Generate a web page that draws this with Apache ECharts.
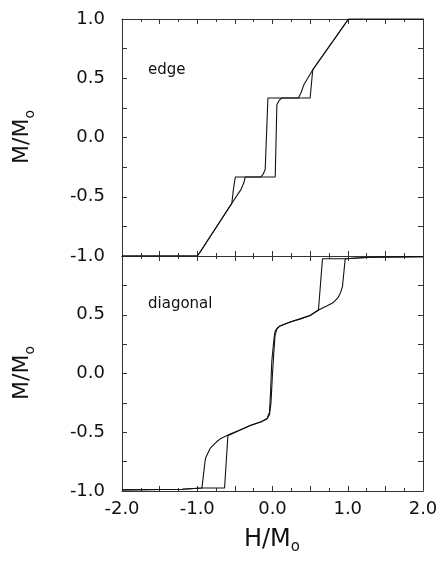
<!DOCTYPE html>
<html>
<head>
<meta charset="utf-8">
<script src="https://cdn.jsdelivr.net/npm/echarts@6/dist/echarts.min.js"></script>
<style>html,body{margin:0;padding:0;background:#fff;}#c{width:442px;height:561px;}</style>
</head>
<body>
<div id="c"></div>
<script>
// ---- data ----
var xTicks = [-2.0, -1.0, 0.0, 1.0, 2.0];
var yTicksTop = [-1.0, -0.5, 0.0, 0.5, 1.0];
var yTicksBottom = [-1.0, -0.5, 0.0, 0.5];

var edgeUpX = [-2.0, -1.0, -0.97, -0.54, -0.42, -0.38, -0.362, 0.036, 0.058, 0.09, 0.125, 0.50, 0.535, 1.01, 2.0];
var edgeUpY = [-1.0, -1.0, -0.975, -0.555, -0.44, -0.38, -0.333, -0.333, 0.276, 0.315, 0.333, 0.333, 0.572, 1.0, 1.0];
var edgeDownX = [2.0, 1.01, 0.535, 0.42, 0.38, 0.345, -0.061, -0.097, -0.125, -0.155, -0.494, -0.52, -0.54, -0.97, -1.0, -2.0];
var edgeDownY = [1.0, 1.0, 0.572, 0.45, 0.38, 0.333, 0.333, -0.27, -0.31, -0.333, -0.333, -0.44, -0.555, -0.975, -1.0, -1.0];

var diagUpX = [-2.0, -1.2, -0.938, -0.637, -0.593, -0.43, -0.296, -0.15, -0.074, -0.04, -0.02, 0.0, 0.02, 0.035, 0.06, 0.1, 0.235, 0.368, 0.5, 0.611, 0.72, 0.81, 0.87, 0.905, 0.93, 0.966, 1.3, 2.0];
var diagUpY = [-0.99, -0.985, -0.975, -0.975, -0.53, -0.48, -0.443, -0.41, -0.386, -0.35, -0.25, 0.0, 0.2, 0.33, 0.38, 0.405, 0.438, 0.465, 0.494, 0.54, 0.575, 0.605, 0.645, 0.69, 0.74, 0.976, 0.99, 0.995];
var diagDownX = [2.0, 1.3, 0.966, 0.664, 0.611, 0.5, 0.368, 0.235, 0.1, 0.06, 0.035, 0.02, -0.01, -0.025, -0.04, -0.074, -0.15, -0.296, -0.43, -0.562, -0.694, -0.739, -0.827, -0.881, -0.894, -0.938, -1.2, -2.0];
var diagDownY = [0.995, 0.99, 0.976, 0.976, 0.54, 0.494, 0.465, 0.438, 0.405, 0.385, 0.36, 0.3, 0.1, -0.15, -0.33, -0.386, -0.41, -0.443, -0.48, -0.515, -0.556, -0.579, -0.636, -0.706, -0.734, -0.975, -0.985, -0.99];

var panelLabels = ['edge', 'diagonal'];

// ---- build ----
function zip(xs, ys) { return xs.map(function (x, i) { return [x, ys[i]]; }); }
var FONT = 'DejaVu Sans';
var AX = '#333';
var INK = '#111';

function inList(list, v) {
  for (var i = 0; i < list.length; i++) if (Math.abs(list[i] - v) < 1e-6) return true;
  return false;
}

function xAx(grid, pos, labels) {
  return {
    type: 'value', gridIndex: grid, position: pos, min: -2, max: 2, interval: 0.5,
    axisLine: { show: true, onZero: false, lineStyle: { color: AX, width: 1 } },
    axisTick: { show: true, inside: true, length: 5, lineStyle: { color: AX } },
    minorTick: { show: true, splitNumber: 2, length: 3, lineStyle: { color: AX } },
    splitLine: { show: false },
    axisLabel: labels ? {
      show: true, margin: 9, fontFamily: FONT, fontSize: 18, color: INK,
      formatter: function (v) { return inList(xTicks, v) ? v.toFixed(1) : ''; }
    } : { show: false }
  };
}
function yAx(grid, pos, labelList) {
  return {
    type: 'value', gridIndex: grid, position: pos, min: -1, max: 1, interval: 0.25,
    axisLine: { show: true, onZero: false, lineStyle: { color: AX, width: 1 } },
    axisTick: { show: true, inside: true, length: 5, lineStyle: { color: AX } },
    splitLine: { show: false },
    axisLabel: labelList ? {
      show: true, margin: 17, fontFamily: FONT, fontSize: 18, color: INK,
      formatter: function (v) { return inList(labelList, v) ? v.toFixed(1) : ''; }
    } : { show: false }
  };
}

function line(xi, yi, data) {
  return {
    type: 'line', xAxisIndex: xi, yAxisIndex: yi, data: data, showSymbol: false, symbol: 'none',
    lineStyle: { color: INK, width: 1.1 }, animation: false, silent: true
  };
}

var titleRich = {
  m: { fontSize: 22, fontFamily: FONT, fill: INK, lineHeight: 30 },
  s: { fontSize: 14, fontFamily: FONT, fill: INK, lineHeight: 14, verticalAlign: 'bottom' }
};

var chart = echarts.init(document.getElementById('c'), null, { renderer: 'canvas' });
chart.setOption({
  animation: false,
  backgroundColor: '#fff',
  grid: [
    { left: 122, top: 19, width: 301, height: 237 },
    { left: 122, top: 256, width: 301, height: 235 }
  ],
  xAxis: [xAx(0, 'bottom', false), xAx(0, 'top', false), xAx(1, 'bottom', true), xAx(1, 'top', false)],
  yAxis: [yAx(0, 'left', yTicksTop), yAx(0, 'right', null), yAx(1, 'left', yTicksBottom), yAx(1, 'right', null)],
  series: [
    line(0, 0, zip(edgeUpX, edgeUpY)),
    line(0, 0, zip(edgeDownX, edgeDownY)),
    line(2, 2, zip(diagUpX, diagUpY)),
    line(2, 2, zip(diagDownX, diagDownY))
  ],
  graphic: [
    { type: 'text', left: 148, top: 63, style: { text: panelLabels[0], font: '15px "DejaVu Sans"', fill: INK } },
    { type: 'text', left: 148, top: 297, style: { text: panelLabels[1], font: '15px "DejaVu Sans"', fill: INK } },
    { type: 'text', x: 22, y: 137, rotation: Math.PI / 2,
      style: { text: '{m|M/M}{s|o}', rich: titleRich, align: 'center', verticalAlign: 'middle' } },
    { type: 'text', x: 22, y: 373, rotation: Math.PI / 2,
      style: { text: '{m|M/M}{s|o}', rich: titleRich, align: 'center', verticalAlign: 'middle' } },
    { type: 'text', x: 272, y: 540,
      style: { text: '{m|H/M}{s|o}', rich: {
        m: { fontSize: 24, fontFamily: FONT, fill: INK, lineHeight: 30 },
        s: { fontSize: 15, fontFamily: FONT, fill: INK, lineHeight: 15, verticalAlign: 'bottom' }
      }, align: 'center', verticalAlign: 'middle' } }
  ]
});
</script>
</body>
</html>
